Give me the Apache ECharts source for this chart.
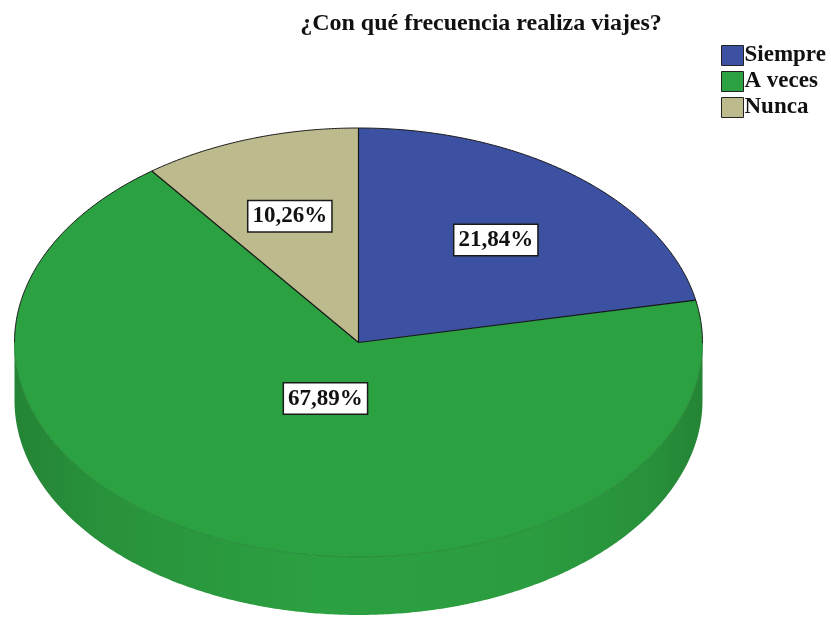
<!DOCTYPE html>
<html>
<head>
<meta charset="utf-8">
<script src="https://cdn.jsdelivr.net/npm/echarts@6/dist/echarts.min.js"></script>
<style>
  html, body { margin: 0; padding: 0; background: #fff; }
  #chart { width: 831px; height: 619px; }
</style>
</head>
<body>
<div id="chart"></div>
<script>
// Survey answers and their shares (percent)
const categories = ['Siempre', 'A veces', 'Nunca'];
const percentages = [21.84, 67.89, 10.26];
const sliceColors = ['#3c51a2', '#2ca141', '#bdbb8d'];
const chartTitle = '¿Con qué frecuencia realiza viajes?';

const total = percentages.reduce((a, b) => a + b, 0);
const startShare = [];
let running = 0;
percentages.forEach(v => { startShare.push(running / total); running += v; });

// Tilted disc geometry (angles measured clockwise from 12 o'clock)
const disc = { cx: 358.5, cy: 342.5, rx: 344, ry: 214.5, depth: 58 };
const serif = '"Liberation Serif", "Times New Roman", serif';

function shade(hex, f) {
  const c = echarts.color.parse(hex);
  return 'rgb(' + [0, 1, 2].map(k => Math.max(0, Math.min(255, Math.round(c[k] * f)))).join(',') + ')';
}
function pt(deg, dy) {
  const r = deg * Math.PI / 180;
  return [disc.cx + disc.rx * Math.sin(r), disc.cy - disc.ry * Math.cos(r) + (dy || 0)];
}
function arc(a0, a1, dy) {
  const pts = [];
  const n = Math.max(2, Math.ceil((a1 - a0) / 0.5));
  for (let i = 0; i <= n; i++) pts.push(pt(a0 + (a1 - a0) * i / n, dy));
  return pts;
}
function isFront(deg) {
  const d = ((deg % 360) + 360) % 360;
  return d > 90 && d < 270;
}

function renderSlice(params, api) {
  const i = params.dataIndex;
  const value = api.value(0);
  const share = value / total;
  const a0 = startShare[i] * 360;
  const a1 = a0 + share * 360;
  const color = sliceColors[i];
  const children = [];

  // Front wall of the disc
  const w0 = Math.max(a0, 90), w1 = Math.min(a1, 270);
  if (w1 > w0) {
    const top = arc(w0, w1, 0);
    const bottom = arc(w0, w1, disc.depth).reverse();
    children.push({
      type: 'polygon', z2: 1,
      shape: { points: top.concat(bottom) },
      style: {
        fill: new echarts.graphic.LinearGradient(disc.cx - disc.rx, 0, disc.cx + disc.rx, 0, [
          { offset: 0, color: shade(color, 0.82) },
          { offset: 0.12, color: shade(color, 0.9) },
          { offset: 0.45, color: shade(color, 1.0) },
          { offset: 0.75, color: shade(color, 0.97) },
          { offset: 0.92, color: shade(color, 0.9) },
          { offset: 1, color: shade(color, 0.82) }
        ], true)
      }
    });
  }

  // Top face
  children.push({
    type: 'polygon', z2: 2,
    shape: { points: [[disc.cx, disc.cy]].concat(arc(a0, a1, 0)) },
    style: { fill: color }
  });

  // Rim outline: dark on the far side, soft on the near side
  const rim = arc(a0, a1, 0);
  let seg = [rim[0]];
  let segFront = isFront(a0 + 0.25);
  const n = rim.length - 1;
  for (let k = 1; k <= n; k++) {
    const mid = a0 + (a1 - a0) * (k - 0.5) / n;
    const f = isFront(mid);
    if (f !== segFront) {
      children.push({
        type: 'polyline', z2: 3, shape: { points: seg },
        style: { fill: null, stroke: segFront ? shade(color, 0.86) : '#1a1a1a', lineWidth: 1 }
      });
      seg = [rim[k - 1]];
      segFront = f;
    }
    seg.push(rim[k]);
  }
  children.push({
    type: 'polyline', z2: 3, shape: { points: seg },
    style: { fill: null, stroke: segFront ? shade(color, 0.86) : '#1a1a1a', lineWidth: 1 }
  });

  // Radial edge at slice start
  children.push({
    type: 'polyline', z2: 4,
    shape: { points: [pt(a0, 0), [disc.cx, disc.cy]] },
    style: { fill: null, stroke: '#151515', lineWidth: 1.2 }
  });

  // Value label in a framed box
  const mid = (a0 + a1) / 2 * Math.PI / 180;
  const reach = share > 0.5 ? 0.27 : 0.63;
  children.push({
    type: 'text', z2: 10,
    x: disc.cx + reach * disc.rx * Math.sin(mid),
    y: disc.cy - reach * disc.ry * Math.cos(mid) + 2,
    style: {
      text: value.toFixed(2).replace('.', ',') + '%',
      align: 'center', verticalAlign: 'middle',
      font: 'bold 23px ' + serif,
      fill: '#111',
      backgroundColor: '#fff',
      borderColor: '#1a1a1a', borderWidth: 1.5,
      padding: [4, 4, 3, 4]
    }
  });

  return { type: 'group', children: children };
}

const chart = echarts.init(document.getElementById('chart'), null, { renderer: 'canvas' });
chart.setOption({
  backgroundColor: '#fff',
  animation: false,
  title: {
    text: chartTitle,
    left: 476, top: 7, textAlign: 'center',
    textStyle: { fontFamily: serif, fontWeight: 'bold', fontSize: 24, color: '#111' }
  },
  legend: {
    orient: 'vertical', left: 716, top: 39,
    icon: 'rect', itemWidth: 22, itemHeight: 20, itemGap: 3,
    selectedMode: false,
    itemStyle: { borderColor: '#222', borderWidth: 1 },
    textStyle: { fontFamily: serif, fontWeight: 'bold', fontSize: 23, lineHeight: 20, color: '#111', padding: [0, 0, 0, -4] },
    data: categories
  },
  series: [
    {
      // carries the category colours for the legend; drawn off-canvas
      type: 'pie', center: [-2000, -2000], radius: 1, silent: true,
      label: { show: false }, labelLine: { show: false },
      data: categories.map((name, i) => ({ name, value: percentages[i], itemStyle: { color: sliceColors[i] } }))
    },
    {
      type: 'custom', coordinateSystem: 'none', silent: true,
      renderItem: renderSlice,
      data: percentages.map((v, i) => ({ name: categories[i], value: [v] }))
    }
  ]
});
</script>
</body>
</html>
